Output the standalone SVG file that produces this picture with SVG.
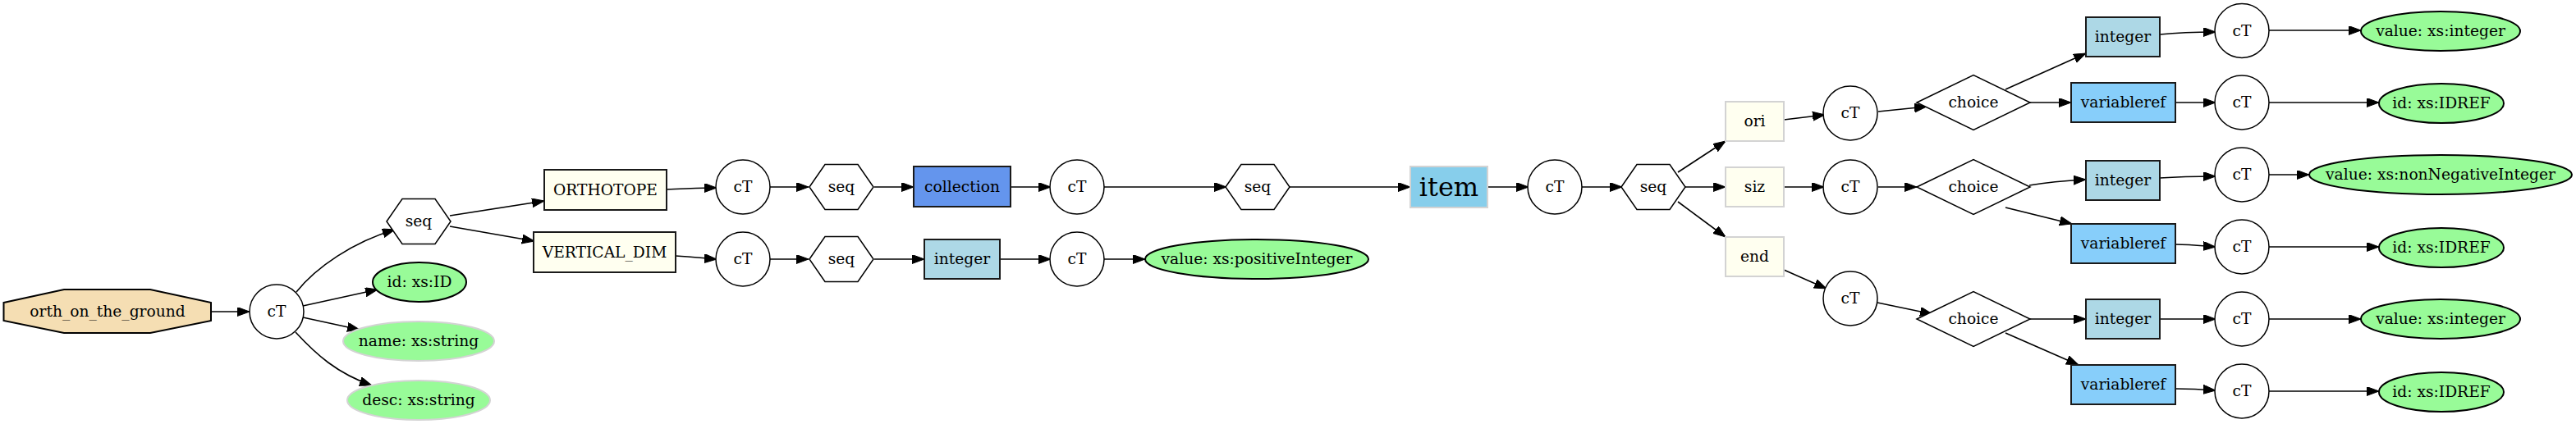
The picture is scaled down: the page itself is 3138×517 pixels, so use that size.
<svg xmlns="http://www.w3.org/2000/svg" width="3138" height="517" viewBox="0 0 3138 517">
<style>
text{font-family:"DejaVu Serif","Liberation Serif",serif;font-size:18.67px;text-anchor:middle;fill:#000}
.big{font-size:32px}
.ct{fill:#fff;stroke:#000;stroke-width:1.5}
.hex{fill:#fff;stroke:#000;stroke-width:1.5}
.dia{fill:#fff;stroke:#000;stroke-width:1.5}
.el{fill:#fffff0;stroke:#1a1a1a;stroke-width:2}
.attr{fill:#fffff0;stroke:#d3d3d3;stroke-width:2}
.coll{fill:#6495ed;stroke:#1a1a1a;stroke-width:2}
.int{fill:#add8e6;stroke:#1a1a1a;stroke-width:2}
.vref{fill:#87cefa;stroke:#1a1a1a;stroke-width:2}
.item{fill:#87ceeb;stroke:#d3d3d3;stroke-width:2}
.gk{fill:#98fb98;stroke:#000;stroke-width:2}
.gg{fill:#98fb98;stroke:#d3d3d3;stroke-width:2}
.root{fill:#f5deb3;stroke:#000;stroke-width:2}
#edges path{fill:none;stroke:#000;stroke-width:1.6;marker-end:url(#arr)}
</style>
<defs>
<marker id="arr" markerUnits="userSpaceOnUse" markerWidth="16" markerHeight="12" refX="15" refY="5.5" orient="auto" viewBox="0 0 16 12">
<path d="M0,0 L15,5.5 L0,11 z" fill="#000" stroke="#000" stroke-width="1"/>
</marker>
</defs>
<rect width="3138" height="517" fill="#fff"/>
<g id="edges">
<path d="M257,380 L304,380"/>
<path d="M361,356 C385,326 430,295 481,280"/>
<path d="M369,373 L460,353"/>
<path d="M369,387 L438,402"/>
<path d="M360,405 C385,432 410,455 453,470"/>
<path d="M548,263 L663,245"/>
<path d="M548,276 L651,294"/>
<path d="M812,231 C840,230 855,229 873,229"/>
<path d="M937,228 L985,228"/>
<path d="M1065,228 L1113,228"/>
<path d="M1231,228 L1280,228"/>
<path d="M1345,228 L1494,228"/>
<path d="M1570,228 L1718,228"/>
<path d="M1812,228 L1862,228"/>
<path d="M1926,228 L1976,228"/>
<path d="M2044,210 L2102,172"/>
<path d="M2053,228 L2102,228"/>
<path d="M2044,246 L2102,289"/>
<path d="M2173,146 L2223,140"/>
<path d="M2288,136 L2347,130"/>
<path d="M2443,109 L2541,65"/>
<path d="M2473,125 L2523,125"/>
<path d="M2631,42 C2660,39 2680,39 2699,39"/>
<path d="M2764,37 L2876,37"/>
<path d="M2650,125 L2699,125"/>
<path d="M2764,125 L2898,125"/>
<path d="M2173,228 L2222,228"/>
<path d="M2288,228 L2335,228"/>
<path d="M2472,226 C2500,221 2520,220 2541,219"/>
<path d="M2443,253 L2524,273"/>
<path d="M2631,217 C2660,215 2680,215 2699,215"/>
<path d="M2764,213 L2813,213"/>
<path d="M2650,298 C2670,298 2685,300 2699,301"/>
<path d="M2764,301 L2898,301"/>
<path d="M2173,329 L2225,352"/>
<path d="M2287,369 L2354,383"/>
<path d="M2473,389 L2541,389"/>
<path d="M2443,406 L2532,445"/>
<path d="M2631,389 L2699,389"/>
<path d="M2764,389 L2876,389"/>
<path d="M2650,474 C2672,474 2686,475 2699,476"/>
<path d="M2764,477 L2898,477"/>
<path d="M823,312 C845,313 858,315 873,316"/>
<path d="M937,316 L985,316"/>
<path d="M1065,316 L1126,316"/>
<path d="M1218,316 L1280,316"/>
<path d="M1345,316 L1395,316"/>
</g>
<g id="n_root"><polygon class="root" points="4.5,369 78,353 183,353 257,369 257,391 183,406 78,406 4.5,391"/><text x="131" y="386">orth_on_the_ground</text></g>
<g id="n_ct0"><circle class="ct" cx="337" cy="380" r="33"/><text x="337" y="386">cT</text></g>
<g id="n_seq0"><polygon class="hex" points="471,270 490,242.5 530,242.5 549,270 530,297.5 490,297.5"/><text x="510" y="276">seq</text></g>
<g id="n_id0"><ellipse class="gk" cx="511" cy="344" rx="57" ry="24"/><text x="511" y="350">id: xs:ID</text></g>
<g id="n_name"><ellipse class="gg" cx="510" cy="416" rx="92" ry="24"/><text x="510" y="422">name: xs:string</text></g>
<g id="n_desc"><ellipse class="gg" cx="510" cy="488" rx="87" ry="24"/><text x="510" y="494">desc: xs:string</text></g>
<g id="n_orthotope"><rect class="el" x="663" y="207" width="149" height="49"/><text x="737.5" y="238">ORTHOTOPE</text></g>
<g id="n_vdim"><rect class="el" x="650" y="283" width="173" height="49"/><text x="736.5" y="314">VERTICAL_DIM</text></g>
<g id="n_ct1"><circle class="ct" cx="905" cy="228" r="33"/><text x="905" y="234">cT</text></g>
<g id="n_ct2"><circle class="ct" cx="905" cy="316" r="33"/><text x="905" y="322">cT</text></g>
<g id="n_seq1"><polygon class="hex" points="986,228 1005,200.5 1045,200.5 1064,228 1045,255.5 1005,255.5"/><text x="1025" y="234">seq</text></g>
<g id="n_seq2"><polygon class="hex" points="986,316 1005,288.5 1045,288.5 1064,316 1045,343.5 1005,343.5"/><text x="1025" y="322">seq</text></g>
<g id="n_collection"><rect class="coll" x="1113" y="203" width="118" height="49"/><text x="1172" y="234">collection</text></g>
<g id="n_int0"><rect class="int" x="1126" y="292" width="92" height="48"/><text x="1172" y="322">integer</text></g>
<g id="n_ct3"><circle class="ct" cx="1312" cy="228" r="33"/><text x="1312" y="234">cT</text></g>
<g id="n_ct4"><circle class="ct" cx="1312" cy="316" r="33"/><text x="1312" y="322">cT</text></g>
<g id="n_vpos"><ellipse class="gk" cx="1531" cy="316" rx="136" ry="24"/><text x="1531" y="322">value: xs:positiveInteger</text></g>
<g id="n_seq3"><polygon class="hex" points="1493,228 1512,200.5 1552,200.5 1571,228 1552,255.5 1512,255.5"/><text x="1532" y="234">seq</text></g>
<g id="n_item"><rect class="item" x="1718" y="203" width="94" height="50"/><text class="big" x="1765" y="239">item</text></g>
<g id="n_ct5"><circle class="ct" cx="1894" cy="228" r="33"/><text x="1894" y="234">cT</text></g>
<g id="n_seq4"><polygon class="hex" points="1975,228 1994,200.5 2034,200.5 2053,228 2034,255.5 1994,255.5"/><text x="2014" y="234">seq</text></g>
<g id="n_ori"><rect class="attr" x="2102" y="124" width="71" height="48"/><text x="2137.5" y="154">ori</text></g>
<g id="n_siz"><rect class="attr" x="2102" y="204" width="71" height="48"/><text x="2137.5" y="234">siz</text></g>
<g id="n_end"><rect class="attr" x="2102" y="289" width="71" height="48"/><text x="2137.5" y="319">end</text></g>
<g id="n_ct6"><circle class="ct" cx="2254" cy="138" r="33"/><text x="2254" y="144">cT</text></g>
<g id="n_ct7"><circle class="ct" cx="2254" cy="228" r="33"/><text x="2254" y="234">cT</text></g>
<g id="n_ct8"><circle class="ct" cx="2254" cy="364" r="33"/><text x="2254" y="370">cT</text></g>
<g id="n_ch0"><polygon class="dia" points="2335,125 2404,91.5 2473,125 2404,158.5"/><text x="2404" y="131">choice</text></g>
<g id="n_ch1"><polygon class="dia" points="2335,228 2404,194.5 2473,228 2404,261.5"/><text x="2404" y="234">choice</text></g>
<g id="n_ch2"><polygon class="dia" points="2335,389 2404,355.5 2473,389 2404,422.5"/><text x="2404" y="395">choice</text></g>
<g id="n_int1"><rect class="int" x="2541" y="21" width="90" height="48"/><text x="2586" y="51">integer</text></g>
<g id="n_int2"><rect class="int" x="2541" y="196" width="90" height="48"/><text x="2586" y="226">integer</text></g>
<g id="n_int3"><rect class="int" x="2541" y="365" width="90" height="48"/><text x="2586" y="395">integer</text></g>
<g id="n_vr1"><rect class="vref" x="2523" y="101" width="127" height="48"/><text x="2586.5" y="131">variableref</text></g>
<g id="n_vr2"><rect class="vref" x="2523" y="273" width="127" height="48"/><text x="2586.5" y="303">variableref</text></g>
<g id="n_vr3"><rect class="vref" x="2523" y="445" width="127" height="48"/><text x="2586.5" y="475">variableref</text></g>
<g id="n_ct9"><circle class="ct" cx="2731" cy="37.5" r="33"/><text x="2731" y="43.5">cT</text></g>
<g id="n_ct10"><circle class="ct" cx="2731" cy="125" r="33"/><text x="2731" y="131">cT</text></g>
<g id="n_ct11"><circle class="ct" cx="2731" cy="213" r="33"/><text x="2731" y="219">cT</text></g>
<g id="n_ct12"><circle class="ct" cx="2731" cy="301" r="33"/><text x="2731" y="307">cT</text></g>
<g id="n_ct13"><circle class="ct" cx="2731" cy="389" r="33"/><text x="2731" y="395">cT</text></g>
<g id="n_ct14"><circle class="ct" cx="2731" cy="477" r="33"/><text x="2731" y="483">cT</text></g>
<g id="n_v1"><ellipse class="gk" cx="2973" cy="38" rx="97" ry="24"/><text x="2973" y="44">value: xs:integer</text></g>
<g id="n_i1"><ellipse class="gk" cx="2974" cy="126" rx="76" ry="24"/><text x="2974" y="132">id: xs:IDREF</text></g>
<g id="n_v2"><ellipse class="gk" cx="2973" cy="213" rx="160" ry="24"/><text x="2973" y="219">value: xs:nonNegativeInteger</text></g>
<g id="n_i2"><ellipse class="gk" cx="2974" cy="302" rx="76" ry="24"/><text x="2974" y="308">id: xs:IDREF</text></g>
<g id="n_v3"><ellipse class="gk" cx="2973" cy="389" rx="97" ry="24"/><text x="2973" y="395">value: xs:integer</text></g>
<g id="n_i3"><ellipse class="gk" cx="2974" cy="478" rx="76" ry="24"/><text x="2974" y="484">id: xs:IDREF</text></g>
</svg>
